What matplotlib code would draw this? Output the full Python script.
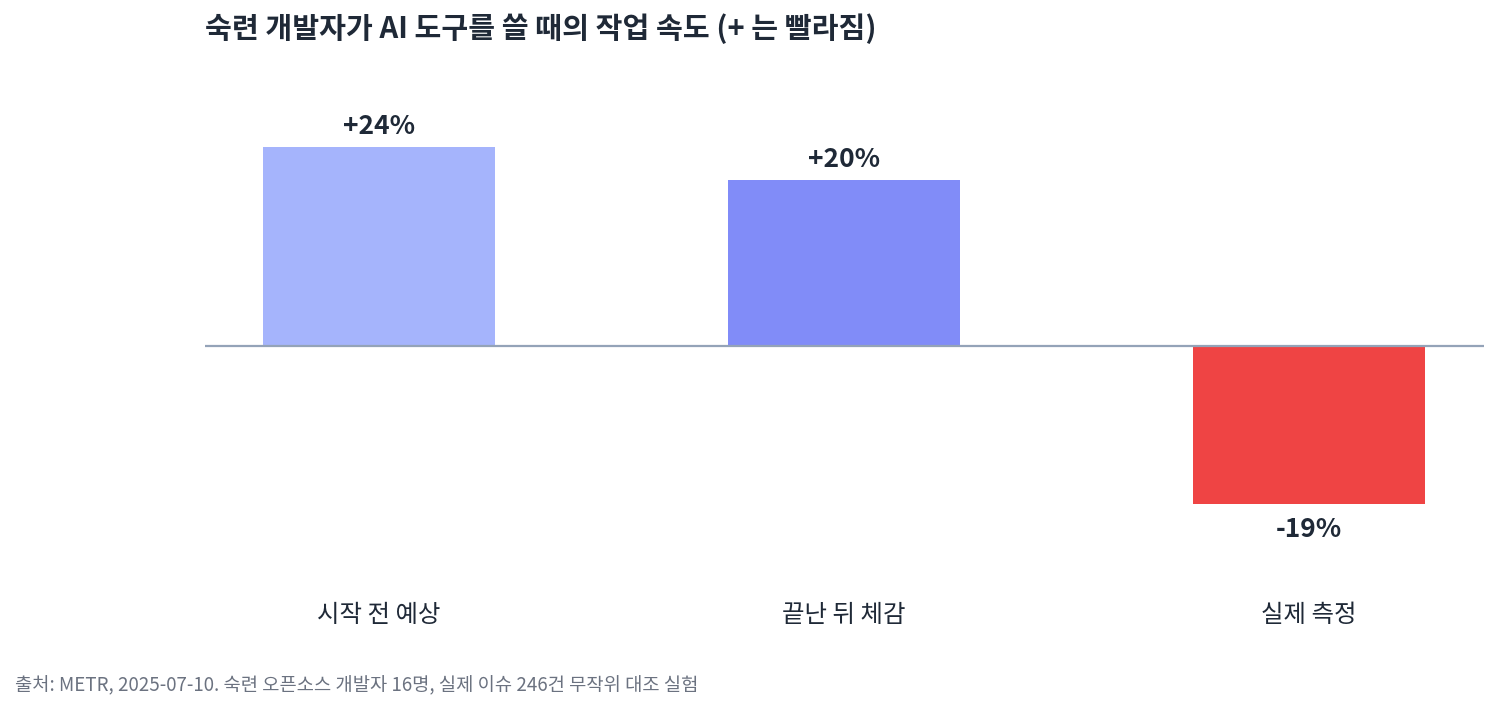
import matplotlib
matplotlib.use("Agg")
import matplotlib.pyplot as plt

plt.rcParams['font.family'] = ['Noto Sans CJK KR', 'DejaVu Sans']

# Data
categories = ['시작 전 예상', '끝난 뒤 체감', '실제 측정']
speed_change = [24, 20, -19]
value_labels = ['+24%', '+20%', '-19%']
bar_colors = ['#a5b4fc', '#818cf8', '#ef4444']

title_text = '숙련 개발자가 AI 도구를 쓸 때의 작업 속도 (+ 는 빨라짐)'
source_text = '출처: METR, 2025-07-10. 숙련 오픈소스 개발자 16명, 실제 이슈 246건 무작위 대조 실험'

W, H = 1498, 712
fig = plt.figure(figsize=(W / 100, H / 100), dpi=100)

# axes in pixel terms: x 205..1484, y 80..560 (baseline at 346, ~8.3 px per %)
left, right, top, bottom = 205, 1484, 80, 560
ax = fig.add_axes([left / W, 1 - bottom / H, (right - left) / W, (bottom - top) / H])

px_per_pct = 8.3
base_y = 346
ax.set_ylim(-(bottom - base_y) / px_per_pct, (base_y - top) / px_per_pct)
ax.set_xlim(-0.374, 2.376)

x = range(len(categories))
bars = ax.bar(x, speed_change, width=0.5, color=bar_colors, zorder=2)
ax.axhline(0, color='#94a3b8', lw=1.6, zorder=3)

for xi, v, lab in zip(x, speed_change, value_labels):
    if v >= 0:
        ax.annotate(lab, (xi, v), xytext=(0, 5), textcoords='offset points',
                    ha='center', va='bottom', fontsize=19, fontweight='bold', color='#1f2937')
    else:
        ax.annotate(lab, (xi, v), xytext=(0, -9), textcoords='offset points',
                    ha='center', va='top', fontsize=19, fontweight='bold', color='#1f2937')

for s in ax.spines.values():
    s.set_visible(False)
ax.set_yticks([])
ax.set_xticks([])

# category labels under the plot
for xi, c in zip(x, categories):
    ax.text(xi, -(615 - base_y) / px_per_pct, c, ha='center', va='center',
            fontsize=17.6, color='#1f2937')

fig.text(205 / W, 1 - 29 / H, title_text, ha='left', va='center',
         fontsize=21, fontweight='bold', color='#1f2937')
fig.text(15 / W, 1 - 686 / H, source_text, ha='left', va='center',
         fontsize=13.5, color='#6b7280')

fig.savefig('out.png', dpi=100, facecolor='white')
